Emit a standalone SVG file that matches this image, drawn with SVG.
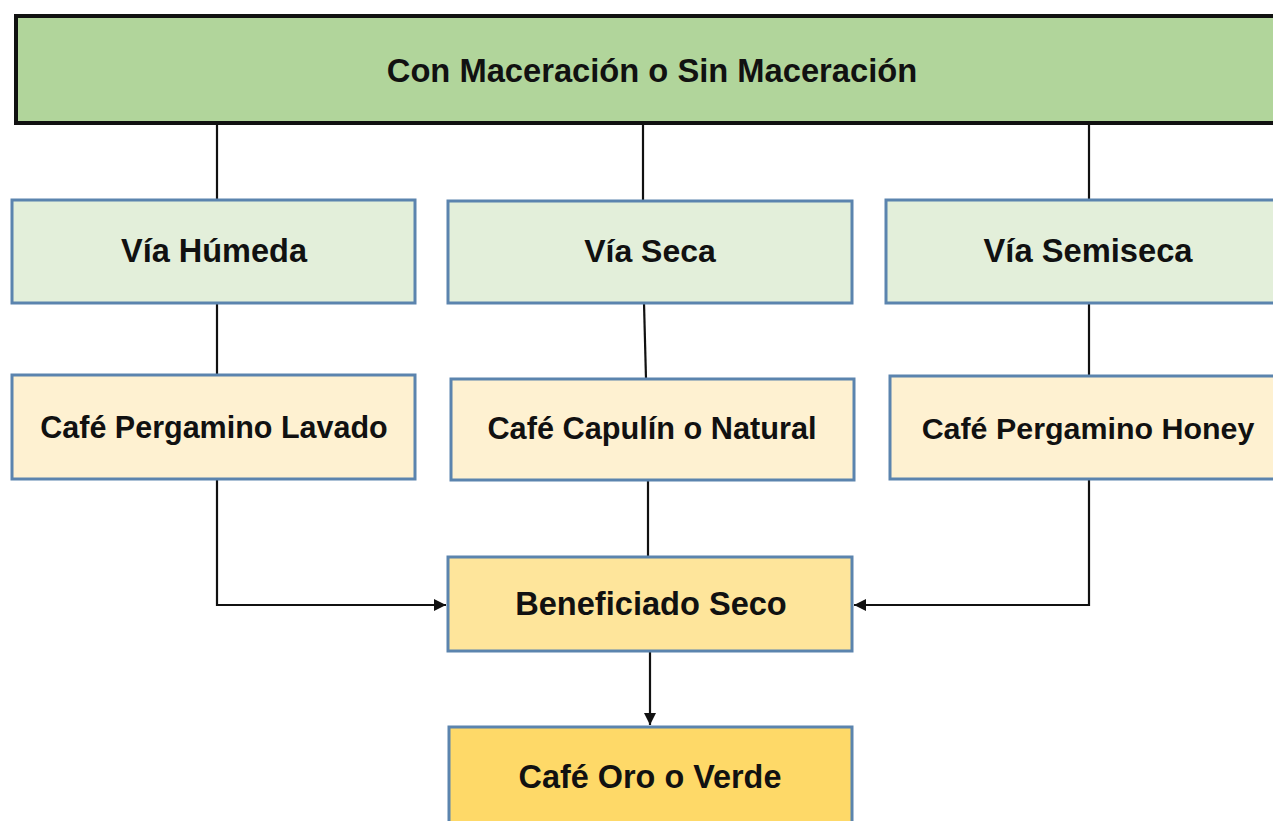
<svg xmlns="http://www.w3.org/2000/svg" width="1273" height="821" viewBox="0 0 1273 821">
<defs>
<style>
.box{stroke:#5b84ae;stroke-width:3}
.via{fill:#e3efda}
.cafe{fill:#fef1d1}
.ben{fill:#fee59b}
.oro{fill:#fed968}
.t{font-family:"Liberation Sans",Arial,sans-serif;font-weight:bold;fill:#111;text-anchor:middle}
.con{stroke:#111;stroke-width:2.2;fill:none}
</style>
<marker id="arr" viewBox="0 0 10 10" refX="10" refY="5" markerWidth="5.5" markerHeight="5.5" orient="auto" markerUnits="strokeWidth">
<path d="M0,0 L10,5 L0,10 z" fill="#111"/>
</marker>
</defs>
<rect width="1273" height="821" fill="#ffffff"/>
<g id="connectors">
<line class="con" x1="217" y1="123" x2="217" y2="200"/>
<line class="con" x1="643" y1="123" x2="643" y2="201"/>
<line class="con" x1="1089" y1="123" x2="1089" y2="200"/>
<line class="con" x1="217" y1="303" x2="217" y2="375"/>
<line class="con" x1="644" y1="303" x2="646" y2="379"/>
<line class="con" x1="1089" y1="303" x2="1089" y2="376"/>
<line class="con" x1="648" y1="480" x2="648" y2="557"/>
<path class="con" d="M217,479 V605 H446" marker-end="url(#arr)"/>
<path class="con" d="M1089,479 V605 H854" marker-end="url(#arr)"/>
<line class="con" x1="650" y1="651" x2="650" y2="725" marker-end="url(#arr)"/>
</g>
<g id="top">
<rect x="16" y="16" width="1272" height="107" fill="#b1d59b" stroke="#111" stroke-width="4"/>
<text class="t" x="652" y="82" font-size="32.7">Con Maceración o Sin Maceración</text>
</g>
<g id="via-humeda">
<rect class="box via" x="12" y="200" width="403" height="103"/>
<text class="t" x="214" y="262" font-size="32.5">Vía Húmeda</text>
</g>
<g id="via-seca">
<rect class="box via" x="448" y="201" width="404" height="102"/>
<text class="t" x="650" y="262" font-size="32">Vía Seca</text>
</g>
<g id="via-semiseca">
<rect class="box via" x="886" y="200" width="404" height="103"/>
<text class="t" x="1088" y="262" font-size="32.7">Vía Semiseca</text>
</g>
<g id="cafe-lavado">
<rect class="box cafe" x="12" y="375" width="403" height="104"/>
<text class="t" x="214" y="438" font-size="30.5">Café Pergamino Lavado</text>
</g>
<g id="cafe-capulin">
<rect class="box cafe" x="451" y="379" width="403" height="101"/>
<text class="t" x="652" y="439" font-size="30.7">Café Capulín o Natural</text>
</g>
<g id="cafe-honey">
<rect class="box cafe" x="890" y="376" width="398" height="103"/>
<text class="t" x="1088" y="439" font-size="30.4">Café Pergamino Honey</text>
</g>
<g id="beneficiado">
<rect class="box ben" x="448" y="557" width="404" height="94"/>
<text class="t" x="651" y="615" font-size="32.6">Beneficiado Seco</text>
</g>
<g id="cafe-oro">
<rect class="box oro" x="449" y="727" width="403" height="110"/>
<text class="t" x="650" y="788" font-size="32.4">Café Oro o Verde</text>
</g>
</svg>
